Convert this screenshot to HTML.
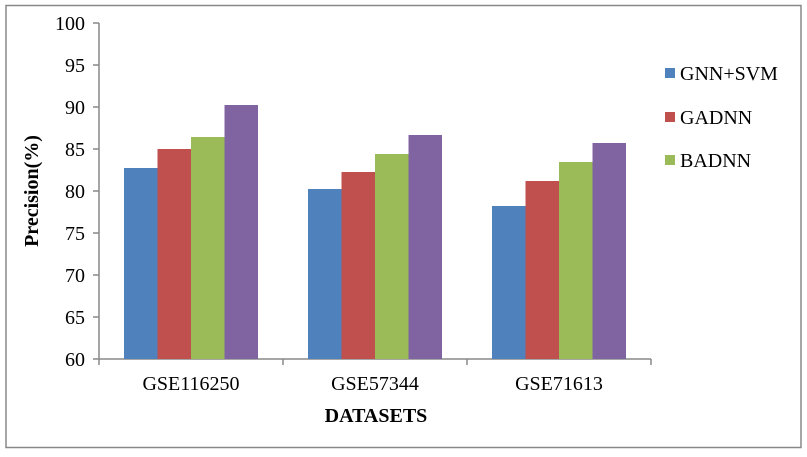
<!DOCTYPE html>
<html><head><style>body{margin:0;background:#fff}</style></head><body>
<svg width="807" height="452" xmlns="http://www.w3.org/2000/svg" font-family="Liberation Serif, serif">
<rect x="6" y="5.5" width="795" height="442" fill="#fff" stroke="#888" stroke-width="1.5"/>
<g fill="#000" font-size="20" text-anchor="end">
<text x="85" y="30">100</text><text x="85" y="72">95</text><text x="85" y="114">90</text><text x="85" y="156">85</text>
<text x="85" y="198">80</text><text x="85" y="240">75</text><text x="85" y="282">70</text><text x="85" y="324">65</text><text x="85" y="366">60</text>
</g>
<g stroke="#888" stroke-width="1.5">
<line x1="99" y1="23" x2="99" y2="359"/>
<line x1="93" y1="23" x2="99" y2="23"/><line x1="93" y1="65" x2="99" y2="65"/><line x1="93" y1="107" x2="99" y2="107"/><line x1="93" y1="149" x2="99" y2="149"/><line x1="93" y1="191" x2="99" y2="191"/><line x1="93" y1="233" x2="99" y2="233"/><line x1="93" y1="275" x2="99" y2="275"/><line x1="93" y1="317" x2="99" y2="317"/>
<line x1="93" y1="359" x2="651" y2="359"/>
<line x1="99" y1="359" x2="99" y2="365"/><line x1="283" y1="359" x2="283" y2="365"/><line x1="467" y1="359" x2="467" y2="365"/><line x1="651" y1="359" x2="651" y2="365"/>
</g>
<g>
<rect x="124" y="168" width="34" height="191" fill="#4f81bd"/>
<rect x="157.5" y="149" width="34" height="210" fill="#c0504d"/>
<rect x="191" y="137" width="34" height="222" fill="#9bbb59"/>
<rect x="224.5" y="105" width="33.5" height="254" fill="#8064a2"/>
<rect x="308" y="189" width="34" height="170" fill="#4f81bd"/>
<rect x="341.5" y="172" width="34" height="187" fill="#c0504d"/>
<rect x="375" y="154" width="34" height="205" fill="#9bbb59"/>
<rect x="408.5" y="135" width="33.5" height="224" fill="#8064a2"/>
<rect x="492" y="206" width="34" height="153" fill="#4f81bd"/>
<rect x="525.5" y="181" width="34" height="178" fill="#c0504d"/>
<rect x="559" y="162" width="34" height="197" fill="#9bbb59"/>
<rect x="592.5" y="143" width="33.5" height="216" fill="#8064a2"/>
</g>
<g font-size="20" text-anchor="middle">
<text x="191" y="390">GSE116250</text><text x="375" y="390">GSE57344</text><text x="559" y="390">GSE71613</text>
<text x="376" y="422" font-weight="bold">DATASETS</text>
<text transform="translate(38,191) rotate(-90)" font-weight="bold">Precision(%)</text>
</g>
<rect x="665" y="68" width="10" height="10" fill="#4f81bd"/>
<rect x="665" y="112" width="10" height="10" fill="#c0504d"/>
<rect x="665" y="155" width="10" height="10" fill="#9bbb59"/>
<g font-size="20"><text x="680" y="80">GNN+SVM</text><text x="680" y="124">GADNN</text><text x="680" y="167">BADNN</text></g>
</svg>
</body></html>
